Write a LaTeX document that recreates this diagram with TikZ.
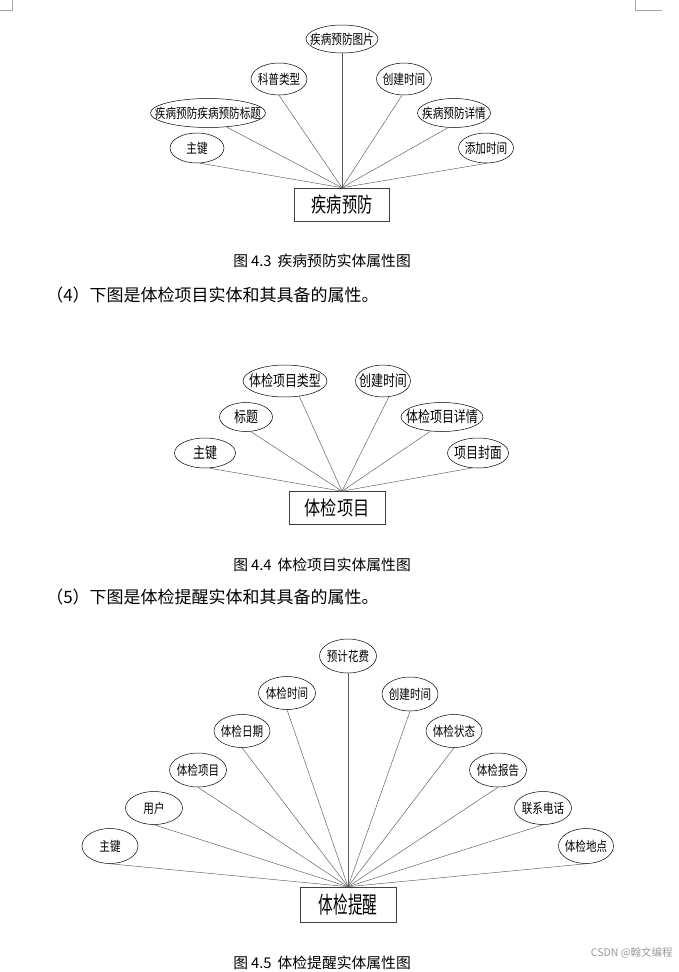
\documentclass[tikz,border=0pt]{standalone}
\usepackage{fontspec}
\setmainfont{Noto Sans CJK SC}
\usepackage{graphicx}
\usepackage{tikz}
\usetikzlibrary{shapes.geometric,positioning}
\newcommand{\attrlbl}[1]{\makebox[0pt]{\scalebox{0.9}[1.15]{#1}}}
\newcommand{\entlbl}[3]{\scalebox{#1}[#2]{#3}}

\begin{document}
\begin{tikzpicture}[x=1pt,y=-1pt,semithick,
    attr/.style={ellipse,draw,line width=0.5pt,inner sep=0pt,minimum width=56pt,minimum height=32pt},
    ent/.style={rectangle,draw=black!75,line width=0.6pt,inner sep=0pt,minimum width=95pt,minimum height=34pt,font=\fontsize{16}{18}\selectfont},
    link/.style={draw=black!65,line width=0.45pt},
    figcap/.style={inner sep=0pt,anchor=west,font=\fontsize{14.8}{16}\selectfont},
    para/.style={inner sep=0pt,anchor=west,font=\fontsize{17}{19}\selectfont}]
  \useasboundingbox (0,0) rectangle (679,972);
  \draw[black!35,line width=0.5pt] (0,10) -- (12,10) -- (12,0);
  \draw[black!35,line width=0.5pt] (635,0) -- (635,10) -- (662,10);

  \begin{scope}[every node/.append style={font=\fontsize{11.8}{13}\selectfont}]
    \node[ent,minimum height=33pt] (e1) at (342,204.5) {\entlbl{0.95}{1.3}{疾病预防}};
    \node[attr,minimum width=72pt,minimum height=28pt] (p1) at (342,39) {\attrlbl{疾病预防图片}};
    \node[attr] (p2) at (279,79) {\attrlbl{科普类型}};
    \node[attr,minimum width=55pt] (p3) at (404,79) {\attrlbl{创建时间}};
    \node[attr,minimum width=115pt,minimum height=29pt] (p4) at (208,113) {\attrlbl{疾病预防疾病预防标题}};
    \node[attr,minimum width=73pt,minimum height=29pt] (p5) at (454,113) {\attrlbl{疾病预防详情}};
    \node[attr,minimum width=54pt,minimum height=30pt] (p6) at (197,148) {\attrlbl{主键}};
    \node[attr,minimum width=55pt,minimum height=30pt] (p7) at (486,148) {\attrlbl{添加时间}};
  \end{scope}
  \path[link]
    (p1.south) edge (e1.north)
    (p2.south) edge (e1.north)
    (p3.-97) edge (e1.north)
    (p4.-37) edge (e1.north)
    (p5.-112) edge (e1.north)
    (p6.-79) edge (e1.north)
    (p7.-86) edge (e1.north);
  \node[figcap] (c1) at (233,261) {图\hspace{3pt}4.3\hspace{6pt}疾病预防实体属性图};
  \node[para] (t4) at (46,295) {（4）下图是体检项目实体和其具备的属性。};

  \begin{scope}[every node/.append style={font=\fontsize{13.3}{15}\selectfont}]
    \node[ent,minimum width=96pt,minimum height=33pt,font=\fontsize{16.5}{18}\selectfont] (e2) at (337,508) {\entlbl{0.98}{1.2}{体检项目}};
    \node[attr,minimum width=84pt] (q1) at (285,381) {\attrlbl{体检项目类型}};
    \node[attr,minimum width=55pt] (q2) at (383,381) {\attrlbl{创建时间}};
    \node[attr,minimum width=53pt,minimum height=29pt] (q3) at (246,417) {\attrlbl{标题}};
    \node[attr,minimum width=82pt,minimum height=29pt] (q4) at (442,417) {\attrlbl{体检项目详情}};
    \node[attr,minimum width=61pt,minimum height=30pt] (q5) at (205,453) {\attrlbl{主键}};
    \node[attr,minimum width=61pt,minimum height=30pt] (q6) at (478,453) {\attrlbl{项目封面}};
  \end{scope}
  \coordinate (h2) at ([xshift=5pt]e2.north);
  \path[link]
    (q1.-47) edge (h2)
    (q2.-70) edge (h2)
    (q3.-72) edge (h2)
    (q4.-129) edge (h2)
    (q5.-75) edge (h2)
    (q6.-112) edge (h2);
  \node[figcap] (c2) at (233,565) {图\hspace{3pt}4.4\hspace{6pt}体检项目实体属性图};
  \node[para] (t5) at (46,597) {（5）下图是体检提醒实体和其具备的属性。};

  \begin{scope}[every node/.append style={font=\fontsize{11.7}{13}\selectfont}]
    \node[ent,minimum width=96pt,minimum height=35pt] (e3) at (348,904.5) {\entlbl{0.92}{1.45}{体检提醒}};
    \node[attr,minimum width=57pt,minimum height=34pt] (r1) at (348,656) {\attrlbl{预计花费}};
    \node[attr,minimum width=57pt,minimum height=33pt] (r2) at (287,693) {\attrlbl{体检时间}};
    \node[attr,minimum width=56pt,minimum height=34pt] (r3) at (410,694) {\attrlbl{创建时间}};
    \node[attr,minimum width=56pt,minimum height=33pt] (r4) at (242,731) {\attrlbl{体检日期}};
    \node[attr,minimum width=56pt,minimum height=33pt] (r5) at (454,731) {\attrlbl{体检状态}};
    \node[attr,minimum width=57pt,minimum height=34pt] (r6) at (198,770) {\attrlbl{体检项目}};
    \node[attr,minimum width=57pt,minimum height=34pt] (r7) at (498,770) {\attrlbl{体检报告}};
    \node[attr,minimum width=57pt,minimum height=33pt] (r8) at (154,808) {\attrlbl{用户}};
    \node[attr,minimum width=57pt,minimum height=33pt] (r9) at (543,808) {\attrlbl{联系电话}};
    \node[attr,minimum width=56pt,minimum height=35pt] (r10) at (110,846) {\attrlbl{主键}};
    \node[attr,minimum width=55pt,minimum height=35pt] (r11) at (586,846) {\attrlbl{体检地点}};
  \end{scope}
  \path[link]
    \foreach \i in {1,...,11} {(r\i.south) edge (e3.north)};
  \node[figcap] (c3) at (233,963) {图\hspace{3pt}4.5\hspace{6pt}体检提醒实体属性图};
  \node[inner sep=0pt,anchor=east,text=black!40,font=\fontsize{10.5}{12}\selectfont] (wm) at (673,953) {CSDN @翰文编程};
\end{tikzpicture}
\end{document}
